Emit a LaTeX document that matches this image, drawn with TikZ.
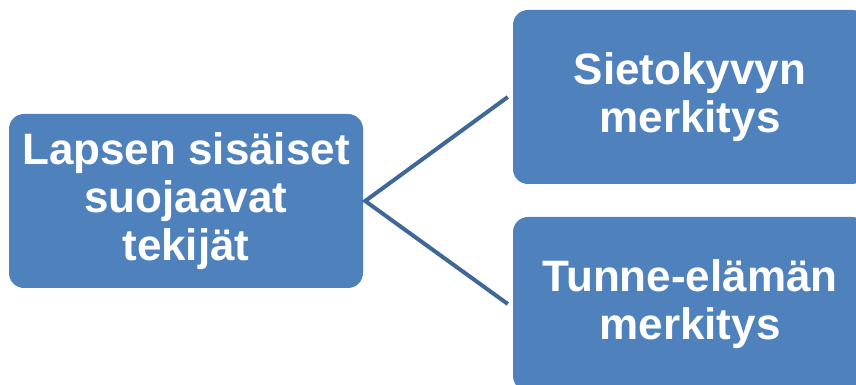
\documentclass[tikz,border=0pt]{standalone}
\usepackage{fontspec}
\setmainfont{Liberation Sans}
\definecolor{boxblue}{HTML}{4F81BD}
\definecolor{lineblue}{HTML}{3F6797}
\begin{document}
\begin{tikzpicture}[x=1pt,y=1pt,
  topic/.style={draw=none, fill=boxblue, rounded corners=15pt, minimum width=354pt, minimum height=174pt,
    text=white, align=center, inner sep=0pt,
    font=\bfseries\fontsize{44}{48}\selectfont},
  link/.style={draw=lineblue, line width=4pt}]
\clip (0,0) rectangle (856,385);
\node[topic] (L) at (186,184) {Lapsen sisäiset\\suojaavat\\tekijät};
\node[topic] (T) at (690,288) {Sietokyvyn\\merkitys};
\node[topic] (B) at (690,81) {Tunne-elämän\\merkitys};
\coordinate (A) at ([xshift=2pt]L.east);
\draw[link] ([xshift=-5pt]T.west) -- (A) -- ([xshift=-5pt]B.west);
\end{tikzpicture}
\end{document}
